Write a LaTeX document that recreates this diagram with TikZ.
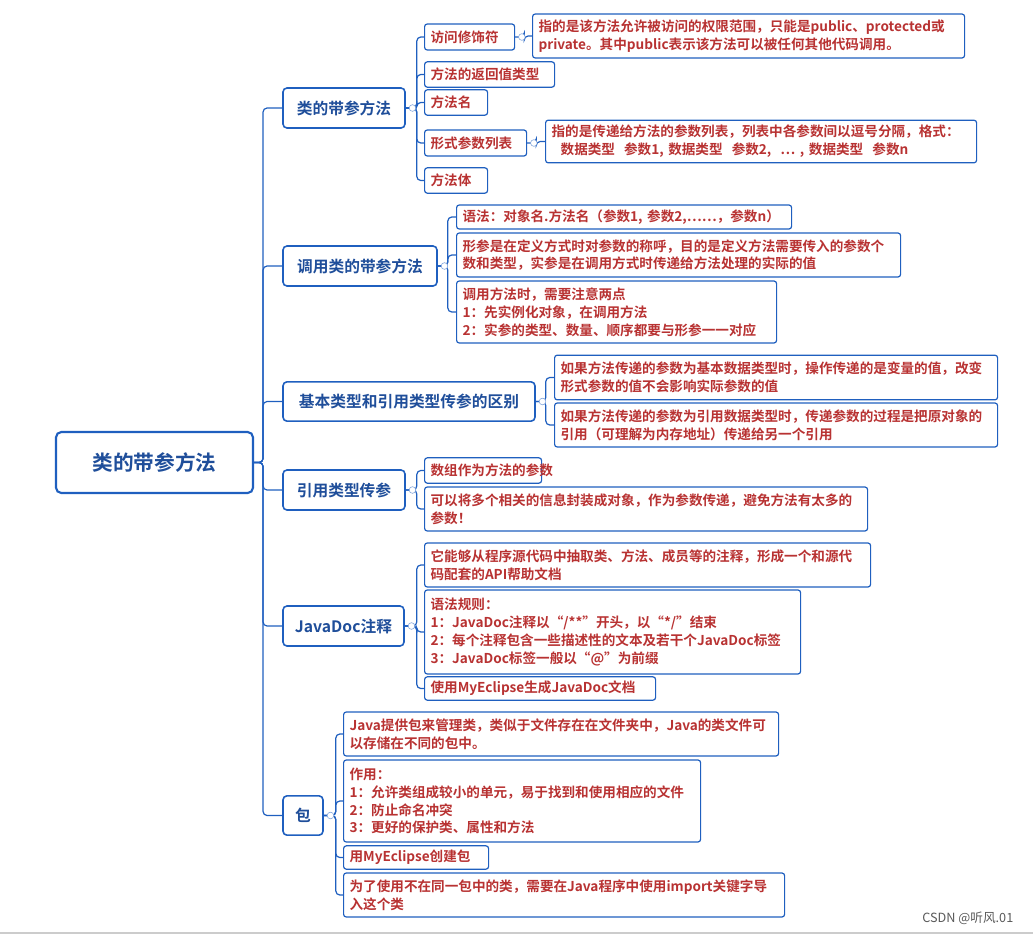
\documentclass[tikz,border=0pt]{standalone}
\usepackage{fontspec}
\setmainfont{Noto Sans CJK SC}[BoldFont={Noto Sans CJK SC Bold}]
\definecolor{bb}{HTML}{1F5FBF}
\definecolor{bt}{HTML}{1F4E9A}
\definecolor{tr}{HTML}{B83232}
\begin{document}
\begin{tikzpicture}[x=0.75pt,y=-0.75pt,
 leaf/.style={draw=bb,line width=0.9pt,rounded corners=2pt,text=tr,anchor=west,align=left,inner xsep=4.5pt,inner ysep=1pt,font=\bfseries\fontsize{10.2}{13.4}\selectfont},
 lone/.style={draw=bb,line width=1.2pt,rounded corners=3pt,text=bt,font=\bfseries\fontsize{11.8}{14}\selectfont,minimum height=30pt},
 conn/.style={draw=bb,line width=0.9pt,rounded corners=3pt},
 circ/.style={circle,draw=bb!60,fill=white,line width=0.4pt,inner sep=0pt,minimum size=5pt}]
\useasboundingbox (0,0) rectangle (1033,936);
\node[draw=bb,line width=1.6pt,rounded corners=4pt,text=bt,font=\bfseries\fontsize{15.5}{18}\selectfont,minimum width=147.75pt,minimum height=45.75pt] (root) at (154.5,462.5) {类的带参方法};
\node[lone,minimum width=91.5pt] (L1) at (344,108) {类的带参方法};
\node[lone,minimum width=115.5pt] (L2) at (360,266) {调用类的带参方法};
\node[lone,minimum width=189pt,minimum height=29.5pt] (L3) at (409,401.5) {基本类型和引用类型传参的区别};
\node[lone,minimum width=91.5pt] (L4) at (344,490) {引用类型传参};
\node[lone,minimum width=90.75pt] (L5) at (343.5,626) {JavaDoc注释};
\node[lone,minimum width=30pt,minimum height=29.5pt] (L6) at (303,815.5) {包};
\foreach \n in {L1,L2,L3,L4,L5,L6}{\draw[conn] (root.east) -- ++(9,0) |- (\n.west);}
% L1
\node[leaf,text width=58.5pt,minimum height=19.5pt] (A1) at (424,37) {访问修饰符};
\node[leaf,text width=315pt,minimum height=33pt] (A1d) at (532,36) {指的是该方法允许被访问的权限范围，只能是public、protected或\\private。其中public表示该方法可以被任何其他代码调用。};
\node[leaf,text width=88.5pt,minimum height=19pt] (A2) at (424,74.5) {方法的返回值类型};
\node[leaf,text width=38.25pt,minimum height=19pt] (A3) at (424,102.5) {方法名};
\node[leaf,text width=67.5pt,minimum height=19.5pt] (A4) at (424,143) {形式参数列表};
\node[leaf,text width=314.25pt,minimum height=32pt] (A4d) at (545,141.5) {指的是传递给方法的参数列表，列表中各参数间以逗号分隔，格式：\\\ \ 数据类型\ \ 参数1, 数据类型\ \ 参数2, \ … , 数据类型\ \ 参数n};
\node[leaf,text width=38.25pt,minimum height=19pt] (A5) at (424,180.5) {方法体};
\foreach \n in {A1,A2,A3,A4,A5}{\draw[conn] (L1.east) -- ++(11,0) |- (\n.west);}
\draw[conn] (A1.east) -- ++(9,0) |- (A1d.west);
\draw[conn] (A4.east) -- ++(9,0) |- (A4d.west);
% L2
\node[leaf,text width=242.25pt,minimum height=18pt] (B1) at (456,217) {语法：对象名.方法名（参数1, 参数2,……，参数n）};
\node[leaf,text width=324pt,minimum height=33pt] (B2) at (456,255) {形参是在定义方式时对参数的称呼，目的是定义方法需要传入的参数个\\数和类型，实参是在调用方式时传递给方法处理的实际的值};
\node[leaf,text width=231pt,minimum height=46.5pt] (B3) at (456,312) {调用方法时，需要注意两点\\1：先实例化对象，在调用方法\\2：实参的类型、数量、顺序都要与形参一一对应};
\foreach \n in {B1,B2,B3}{\draw[conn] (L2.east) -- ++(10,0) |- (\n.west);}
% L3
\node[leaf,text width=323.25pt,minimum height=33.5pt] (C1) at (554,377.5) {如果方法传递的参数为基本数据类型时，操作传递的是变量的值，改变\\形式参数的值不会影响实际参数的值};
\node[leaf,text width=323.25pt,minimum height=33pt] (C2) at (554,425) {如果方法传递的参数为引用数据类型时，传递参数的过程是把原对象的\\引用（可理解为内存地址）传递给另一个引用};
\foreach \n in {C1,C2}{\draw[conn] (L3.east) -- ++(10,0) |- (\n.west);}
% L4
\node[leaf,text width=78.75pt,minimum height=19pt] (D1) at (424,470.5) {数组作为方法的参数};
\node[leaf,text width=323.25pt,minimum height=33pt] (D2) at (424,509) {可以将多个相关的信息封装成对象，作为参数传递，避免方法有太多的\\参数！};
\foreach \n in {D1,D2}{\draw[conn] (L4.east) -- ++(11,0) |- (\n.west);}
% L5
\node[leaf,text width=325.5pt,minimum height=33pt] (E1) at (424,565) {它能够从程序源代码中抽取类、方法、成员等的注释，形成一个和源代\\码配套的API帮助文档};
\node[leaf,text width=273pt,minimum height=63pt] (E2) at (424,632) {语法规则：\\1：JavaDoc注释以“/**”开头，以“*/”结束\\2：每个注释包含一些描述性的文本及若干个JavaDoc标签\\3：JavaDoc标签一般以“@”为前缀};
\node[leaf,text width=164.25pt,minimum height=17.5pt] (E3) at (424,688.5) {使用MyEclipse生成JavaDoc文档};
\foreach \n in {E1,E2,E3}{\draw[conn] (L5.east) -- ++(12,0) |- (\n.west);}
% L6
\node[leaf,text width=317.25pt,minimum height=33pt] (F1) at (343,734) {Java提供包来管理类，类似于文件存在在文件夹中，Java的类文件可\\以存储在不同的包中。};
\node[leaf,text width=258.75pt,minimum height=61.5pt] (F2) at (343,801) {作用：\\1：允许类组成较小的单元，易于找到和使用相应的文件\\2：防止命名冲突\\3：更好的保护类、属性和方法};
\node[leaf,text width=99.75pt,minimum height=17.5pt] (F3) at (343,857.5) {用MyEclipse创建包};
\node[leaf,text width=321.75pt,minimum height=33pt] (F4) at (343,895) {为了使用不在同一包中的类，需要在Java程序中使用import关键字导\\入这个类};
\foreach \n in {F1,F2,F3,F4}{\draw[conn] (L6.east) -- ++(12,0) |- (\n.west);}
% collapse markers
\foreach \n/\d in {L1/5,L2/5,L3/5,L4/5,L5/5,L6/5,A1/5,A4/5}{\node[circ] (c\n) at ([xshift=\d]\n.east) {};}
\draw[gray!40,line width=1.5pt] (0,933) -- (1033,933);
\node[text=gray!70!black,font=\fontsize{9.5}{11}\selectfont,anchor=east] (wm) at (1018,918) {CSDN @听风.01};
\end{tikzpicture}
\end{document}
